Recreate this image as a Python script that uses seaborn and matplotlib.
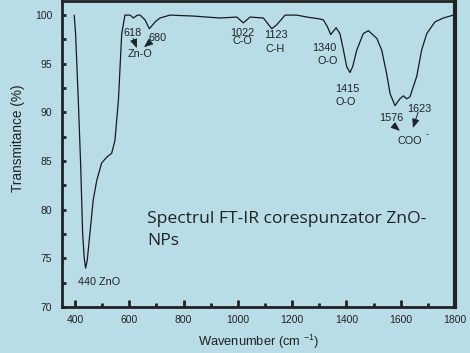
import matplotlib
matplotlib.use("Agg")
import matplotlib.pyplot as plt
import seaborn as sns
import pandas as pd
from matplotlib.ticker import MultipleLocator

# ---- data ----
wavenumber = [397, 402, 412, 421, 428, 434, 439, 445, 455, 467, 480, 498, 517, 535,
              547, 560, 566, 572, 584, 603, 615, 630, 640, 658, 674, 695, 713, 750,
              836, 934, 996, 1020, 1045, 1094, 1125, 1143, 1174, 1217, 1254, 1303,
              1315, 1330, 1342, 1362, 1376, 1389, 1401, 1413, 1423, 1438, 1462, 1481,
              1512, 1530, 1548, 1561, 1579, 1597, 1610, 1622, 1634, 1659, 1677, 1696,
              1726, 1757, 1794]
transmittance = [100.0, 98.1, 91.3, 84.4, 77.6, 75.0, 74.0, 74.8, 77.6, 81.0, 83.0, 84.8,
                 85.4, 85.8, 87.1, 91.3, 94.7, 98.1, 100.0, 100.0, 99.7, 100.0, 100.0,
                 99.5, 98.6, 99.3, 99.7, 100.0, 99.9, 99.7, 99.8, 99.2, 99.8, 99.7,
                 98.6, 99.0, 100.0, 100.0, 99.8, 99.6, 99.5, 98.8, 98.0, 98.7, 98.1,
                 96.4, 94.7, 94.1, 94.7, 96.4, 98.1, 98.4, 97.6, 96.4, 94.0, 91.9,
                 90.7, 91.4, 91.7, 91.4, 91.6, 93.7, 96.4, 98.1, 99.3, 99.7, 100.0]

peak_labels = ["618", "680", "Zn-O", "1022", "C-O", "1123", "C-H", "1340", "O-O",
               "1415", "O-O", "1576", "1623", "COO", "440 ZnO"]
peak_label_x = [612, 704, 639, 1015, 1015, 1140, 1137, 1317, 1332, 1402, 1398, 1564,
                1667, 1634, 488]
peak_label_y = [98.2, 97.6, 96.0, 98.2, 97.33, 97.95, 96.51, 96.66, 95.27, 92.4, 91.11,
                89.47, 90.34, 87.06, 72.52]

title_text = "Spectrul FT-IR corespunzator ZnO-\nNPs"
x_ticks = [400, 600, 800, 1000, 1200, 1400, 1600, 1800]
y_ticks = [70, 75, 80, 85, 90, 95, 100]

df = pd.DataFrame({"Wavenumber": wavenumber, "T": transmittance})

bg = "#b8dde6"
ink = "#222222"
sns.set_theme(style="ticks")
plt.rcParams["font.family"] = ["Liberation Sans", "DejaVu Sans"]
plt.rcParams["mathtext.fontset"] = "custom"
plt.rcParams["mathtext.rm"] = "Liberation Sans"
plt.rcParams["mathtext.it"] = "Liberation Sans"

fig = plt.figure(figsize=(4.7, 3.53), dpi=100, facecolor=bg)
ax = fig.add_axes([62 / 470, 1 - 307 / 353, (455 - 62) / 470, 306.5 / 353])
ax.set_facecolor(bg)

sns.lineplot(data=df, x="Wavenumber", y="T", ax=ax, color="#1a1a1a", linewidth=0.9,
             sort=False, estimator=None)

ax.set_xlim(352, 1800)
ax.set_ylim(70, 101.5)
ax.set_xticks(x_ticks)
ax.set_yticks(y_ticks)
ax.xaxis.set_minor_locator(MultipleLocator(100))
ax.yaxis.set_minor_locator(MultipleLocator(2.5))
ax.tick_params(axis="both", which="both", direction="in", colors=ink,
               labelcolor=ink, labelsize=7.5)
ax.tick_params(axis="x", which="major", length=5, width=2, pad=6)
ax.tick_params(axis="x", which="minor", length=3, width=2)
ax.tick_params(axis="y", which="major", length=3, width=2, pad=7)
ax.tick_params(axis="y", which="minor", length=3, width=2)
for side in ["left", "bottom", "top"]:
    ax.spines[side].set_linewidth(2)
    ax.spines[side].set_color(ink)
ax.spines["right"].set_linewidth(3)
ax.spines["right"].set_color(ink)

ax.set_xlabel("Wavenumber (cm $^{-1}$)", fontsize=9.3, color=ink)
ax.set_ylabel("Transmitance (%)", fontsize=9.8, color=ink)
ax.xaxis.set_label_coords(0.5, -0.085)
ax.yaxis.set_label_coords(-0.093, 0.552)

for lab, x, y in zip(peak_labels, peak_label_x, peak_label_y):
    ax.text(x, y, lab, fontsize=7.8, ha="center", va="center", color=ink)
ax.text(1697, 87.7, "-", fontsize=6.5, ha="center", va="center", color=ink)

arrow_kw = dict(arrowstyle="-|>,head_length=0.45,head_width=0.18", color=ink,
                lw=0.7, shrinkA=0, shrinkB=0)
ax.annotate("", xy=(628, 96.6), xytext=(614, 97.6), arrowprops=arrow_kw)
ax.annotate("", xy=(654, 96.7), xytext=(676, 97.2), arrowprops=arrow_kw)
ax.annotate("", xy=(1597, 88.1), xytext=(1572, 88.7), arrowprops=arrow_kw)
ax.annotate("", xy=(1645, 88.4), xytext=(1664, 90.0), arrowprops=arrow_kw)

ax.text(665, 77.9, title_text, fontsize=12.6, ha="left", va="center",
        family=["Open Sans", "DejaVu Sans"], color=ink, linespacing=1.55)

fig.savefig("out.png", dpi=100, facecolor=bg)
